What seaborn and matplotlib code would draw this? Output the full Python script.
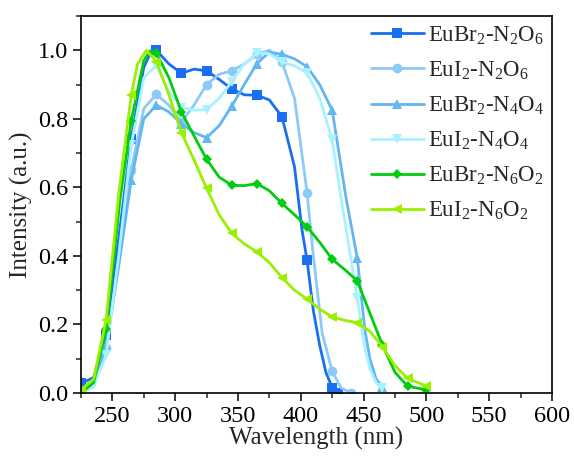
import numpy as np
import pandas as pd
import matplotlib
matplotlib.use('Agg')
import matplotlib.pyplot as plt
import seaborn as sns
from matplotlib.ticker import MultipleLocator

# curves (x in nm, normalised intensity)
x_br_n2o6 = [225, 235, 245, 255, 265, 275, 280, 285, 295, 305, 315, 325, 335, 345, 355,
             365, 375, 385, 395, 401, 405, 410, 415, 420, 425, 430]
y_br_n2o6 = [0.028, 0.045, 0.17, 0.45, 0.74, 0.95, 0.99, 1.0, 0.96, 0.933, 0.945, 0.94, 0.915,
             0.887, 0.87, 0.869, 0.855, 0.806, 0.66, 0.475, 0.387, 0.24, 0.14, 0.06, 0.016, 0.0]
m_br_n2o6 = [225, 245, 265, 285, 305, 325, 345, 365, 385, 405, 425, 430]

x_i_n2o6 = [225, 235, 245, 255, 265, 275, 285, 295, 305, 315, 325, 335, 345, 355, 365,
            375, 385, 395, 405, 410, 417, 425, 432, 440]
y_i_n2o6 = [0.0, 0.02, 0.13, 0.38, 0.65, 0.83, 0.871, 0.84, 0.791, 0.84, 0.90, 0.93, 0.94,
            0.96, 0.988, 1.0, 0.966, 0.86, 0.584, 0.40, 0.175, 0.064, 0.015, 0.0]
m_i_n2o6 = [225, 245, 265, 285, 305, 325, 345, 365, 385, 405, 425, 440]

x_br_n4o4 = [225, 235, 245, 255, 265, 275, 285, 295, 305, 315, 325, 335, 345, 355, 365,
             375, 385, 395, 405, 415, 425, 436, 445, 451, 455, 460, 465]
y_br_n4o4 = [0.0, 0.02, 0.14, 0.37, 0.621, 0.80, 0.840, 0.82, 0.786, 0.76, 0.745, 0.78, 0.837,
             0.90, 0.961, 0.995, 0.988, 0.975, 0.952, 0.90, 0.825, 0.57, 0.393, 0.184, 0.10,
             0.04, 0.018]
m_br_n4o4 = [225, 245, 265, 285, 305, 325, 345, 365, 385, 405, 425, 445, 465]

x_i_n4o4 = [225, 235, 245, 255, 265, 275, 285, 295, 305, 315, 325, 335, 345, 355, 365,
            375, 385, 395, 405, 415, 425, 432, 445, 450, 455, 460, 465]
y_i_n4o4 = [0.0, 0.02, 0.11, 0.40, 0.723, 0.92, 0.956, 0.88, 0.833, 0.825, 0.827, 0.86, 0.908,
            0.96, 0.992, 0.99, 0.966, 0.955, 0.934, 0.86, 0.738, 0.57, 0.276, 0.15, 0.07,
            0.03, 0.014]
m_i_n4o4 = [225, 245, 265, 285, 305, 325, 345, 365, 385, 405, 425, 445, 465]

x_br_n6o2 = [225, 235, 245, 256, 265, 275, 280, 285, 295, 305, 315, 325, 335, 345, 355,
             365, 375, 385, 395, 405, 415, 425, 435, 445, 455, 465, 475, 485, 500]
y_br_n6o2 = [0.0, 0.03, 0.186, 0.563, 0.794, 0.97, 0.998, 0.992, 0.92, 0.82, 0.75, 0.682, 0.63,
             0.606, 0.605, 0.611, 0.59, 0.553, 0.52, 0.485, 0.44, 0.390, 0.36, 0.327, 0.233,
             0.140, 0.06, 0.020, 0.009]
m_br_n6o2 = [225, 245, 265, 285, 305, 325, 345, 365, 385, 405, 425, 445, 465, 485, 500]

x_i_n6o2 = [225, 235, 245, 255, 265, 270, 277, 285, 295, 305, 315, 325, 335, 345, 355,
            365, 375, 385, 395, 405, 415, 425, 435, 445, 455, 465, 475, 485, 500]
y_i_n6o2 = [0.01, 0.04, 0.213, 0.58, 0.869, 0.96, 1.0, 0.967, 0.87, 0.759, 0.68, 0.597, 0.52,
            0.466, 0.435, 0.412, 0.38, 0.337, 0.30, 0.274, 0.245, 0.222, 0.212, 0.205, 0.18,
            0.135, 0.08, 0.043, 0.02]
m_i_n6o2 = [225, 245, 265, 285, 305, 325, 345, 365, 385, 405, 425, 445, 465, 485, 500]

labels = ['EuBr$_2$-N$_2$O$_6$', 'EuI$_2$-N$_2$O$_6$', 'EuBr$_2$-N$_4$O$_4$',
          'EuI$_2$-N$_4$O$_4$', 'EuBr$_2$-N$_6$O$_2$', 'EuI$_2$-N$_6$O$_2$']

series = [
    (x_br_n2o6, y_br_n2o6, m_br_n2o6, '#1a6ff0', 's', 6.5),
    (x_i_n2o6, y_i_n2o6, m_i_n2o6, '#8ccaf8', 'o', 7),
    (x_br_n4o4, y_br_n4o4, m_br_n4o4, '#62b6f2', '^', 7),
    (x_i_n4o4, y_i_n4o4, m_i_n4o4, '#a8f2ff', 'v', 7),
    (x_br_n6o2, y_br_n6o2, m_br_n6o2, '#00cc10', 'D', 5.5),
    (x_i_n6o2, y_i_n6o2, m_i_n6o2, '#99f000', '<', 7),
]

sns.set_theme(style="ticks")
plt.rcParams['font.family'] = ['Liberation Serif', 'DejaVu Serif']
plt.rcParams['mathtext.fontset'] = 'custom'
plt.rcParams['mathtext.rm'] = 'Liberation Serif'
plt.rcParams['mathtext.it'] = 'Liberation Serif:italic'

fig = plt.figure(figsize=(5.74, 4.57), dpi=100)
ax = fig.add_axes([81 / 574, 1 - 393 / 457, (552 - 81) / 574, (393 - 16) / 457])

for (xs, ys, ms, col, mk, sz), lab in zip(series, labels):
    df = pd.DataFrame({'Wavelength': xs, 'Intensity': ys})
    idx = [i for i, v in enumerate(xs) if v in ms]
    sns.lineplot(data=df, x='Wavelength', y='Intensity', ax=ax, color=col, marker=mk,
                 markersize=sz, markevery=idx, markeredgecolor=col, markeredgewidth=0,
                 linewidth=2, label=lab)

ax.set_xlim(225, 600)
ax.set_ylim(0, 1.1)
ax.xaxis.set_major_locator(MultipleLocator(50))
ax.xaxis.set_minor_locator(MultipleLocator(25))
ax.yaxis.set_major_locator(MultipleLocator(0.2))
ax.yaxis.set_minor_locator(MultipleLocator(0.1))
ax.set_yticks(np.arange(0, 1.01, 0.2))
ax.set_yticklabels([f'{v:.1f}' for v in np.arange(0, 1.01, 0.2)])
ax.tick_params(which='major', direction='out', length=6, width=1.1, labelsize=17.5, pad=3,
               colors='black')
ax.tick_params(which='minor', direction='out', length=3.5, width=1.1)
for s in ax.spines.values():
    s.set_linewidth(1.2)
    s.set_color('black')

ax.set_xlabel('Wavelength (nm)', fontsize=18, labelpad=0)
ax.set_ylabel('Intensity (a.u.)', fontsize=18, labelpad=4)

ax.legend(loc='upper left', bbox_to_anchor=(0.616, 0.978), frameon=False, fontsize=16.5,
          borderpad=0, borderaxespad=0, handlelength=2.3, handletextpad=0.2,
          labelspacing=0.56)

fig.savefig('out.png', dpi=100)
